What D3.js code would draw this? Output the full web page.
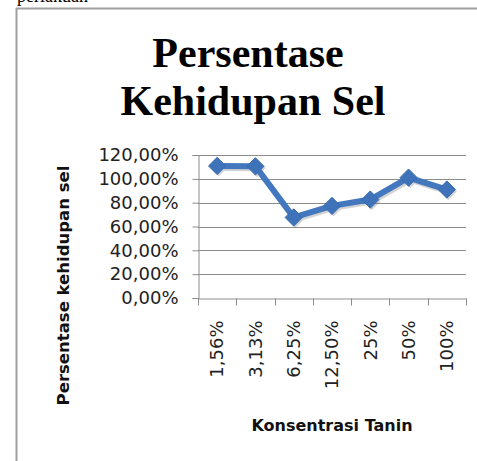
<!DOCTYPE html>
<html>
<head>
<meta charset="utf-8">
<script src="https://cdn.jsdelivr.net/npm/d3@7"></script>
<style>
  body { margin: 0; background: #fff; }
  svg { display: block; }
</style>
</head>
<body>
<svg width="477" height="461"></svg>
<script>
const categories = ["1,56%", "3,13%", "6,25%", "12,50%", "25%", "50%", "100%"];
const survival = [1.108, 1.105, 0.676, 0.773, 0.826, 1.01, 0.91];
const yTicks = [0, 0.2, 0.4, 0.6, 0.8, 1.0, 1.2];

const svg = d3.select("svg"),
      plot = {left: 198, right: 466, top: 155, bottom: 298};

const locale = d3.formatLocale({decimal: ",", thousands: ".", grouping: [3], currency: ["", ""]});
const pct = locale.format(".2%");

const x = d3.scaleBand().domain(categories).range([plot.left, plot.right]).padding(0);
const y = d3.scaleLinear().domain([0, 1.2]).range([plot.bottom, plot.top]);

// frame of the embedded chart (cut off page around it)
svg.append("text")
  .attr("x", 17).attr("y", 2)
  .style("font-family", "'Liberation Serif', 'Times New Roman', serif")
  .style("font-size", "18px")
  .text("perlakuan");
svg.append("line").attr("x1", 16).attr("x2", 477).attr("y1", 8.5).attr("y2", 8.5)
  .attr("stroke", "#a0a0a0").attr("stroke-width", 2);
svg.append("line").attr("x1", 16.5).attr("x2", 16.5).attr("y1", 8).attr("y2", 461)
  .attr("stroke", "#a0a0a0").attr("stroke-width", 2);

// title
const title = svg.append("text")
  .attr("text-anchor", "middle")
  .style("font-family", "'Liberation Serif', 'Times New Roman', serif")
  .style("font-weight", "bold")
  .style("font-size", "42px")
  .attr("fill", "#000");
title.append("tspan").attr("x", 248).attr("y", 67).text("Persentase");
title.append("tspan").attr("x", 253).attr("y", 115).text("Kehidupan Sel");

const g = svg.append("g");

// gridlines
g.append("g")
  .selectAll("line")
  .data(yTicks.slice(1))
  .join("line")
  .attr("x1", plot.left).attr("x2", plot.right)
  .attr("y1", d => Math.round(y(d)) + 0.5).attr("y2", d => Math.round(y(d)) + 0.5)
  .attr("stroke", "#8c8c8c").attr("stroke-width", 1);

// y axis
const yAxis = g.append("g")
  .attr("transform", `translate(${plot.left + 0.5},0)`)
  .call(d3.axisLeft(y).tickValues(yTicks).tickFormat(pct).tickSize(6).tickPadding(14));
yAxis.select(".domain").attr("stroke", "#8c8c8c");
yAxis.selectAll(".tick line").attr("stroke", "#8c8c8c");
yAxis.selectAll(".tick text")
  .attr("fill", "#222")
  .style("font-family", "'DejaVu Sans', sans-serif")
  .style("font-size", "18px");

// x axis (labels at band centres, ticks between categories)
const xAxis = g.append("g")
  .attr("transform", `translate(0,${plot.bottom + 0.5})`)
  .call(d3.axisBottom(x).tickSize(0).tickPadding(0));
xAxis.select(".domain").attr("stroke", "#8c8c8c");
xAxis.selectAll(".tick text")
  .attr("fill", "#222")
  .attr("text-anchor", "end")
  .attr("dy", "0.35em")
  .attr("transform", "translate(0,22) rotate(-90)")
  .style("font-family", "'DejaVu Sans', sans-serif")
  .style("font-size", "18px");
xAxis.append("g")
  .selectAll("line")
  .data(categories.map(c => x(c)).concat([x(categories[categories.length - 1]) + x.bandwidth()]))
  .join("line")
  .attr("x1", d => Math.round(d) + 0.5).attr("x2", d => Math.round(d) + 0.5)
  .attr("y1", 0).attr("y2", 7)
  .attr("stroke", "#8c8c8c");

// axis titles
svg.append("text")
  .attr("transform", `translate(69,${(163 + 408) / 2}) rotate(-90)`)
  .attr("text-anchor", "middle")
  .style("font-family", "'DejaVu Sans', sans-serif")
  .style("font-weight", "bold")
  .style("font-size", "16.5px")
  .attr("fill", "#111")
  .text("Persentase kehidupan sel");
svg.append("text")
  .attr("x", (plot.left + plot.right) / 2)
  .attr("y", 431)
  .attr("text-anchor", "middle")
  .style("font-family", "'DejaVu Sans', sans-serif")
  .style("font-weight", "bold")
  .style("font-size", "16px")
  .attr("fill", "#111")
  .text("Konsentrasi Tanin");

// series
const pts = categories.map((c, i) => ({c, v: survival[i]}));
const line = d3.line().x(d => x(d.c) + x.bandwidth() / 2).y(d => y(d.v));
const diamond = d3.symbol().type(d3.symbolDiamond2).size(190);

const shadow = g.append("g").attr("transform", "translate(1.5,2)").attr("opacity", 0.25);
shadow.append("path").datum(pts).attr("d", line)
  .attr("fill", "none").attr("stroke", "#555").attr("stroke-width", 6).attr("stroke-linejoin", "round");
shadow.selectAll("path.m").data(pts).join("path").attr("class", "m")
  .attr("transform", d => `translate(${x(d.c) + x.bandwidth() / 2},${y(d.v)})`)
  .attr("d", diamond).attr("fill", "#555");

g.append("path").datum(pts).attr("d", line)
  .attr("fill", "none").attr("stroke", "#4478be").attr("stroke-width", 6).attr("stroke-linejoin", "round");
g.selectAll("path.marker").data(pts).join("path").attr("class", "marker")
  .attr("transform", d => `translate(${x(d.c) + x.bandwidth() / 2},${y(d.v)})`)
  .attr("d", diamond).attr("fill", "#3f73b9").attr("stroke", "#3a6cb0").attr("stroke-width", 1);
</script>
</body>
</html>
